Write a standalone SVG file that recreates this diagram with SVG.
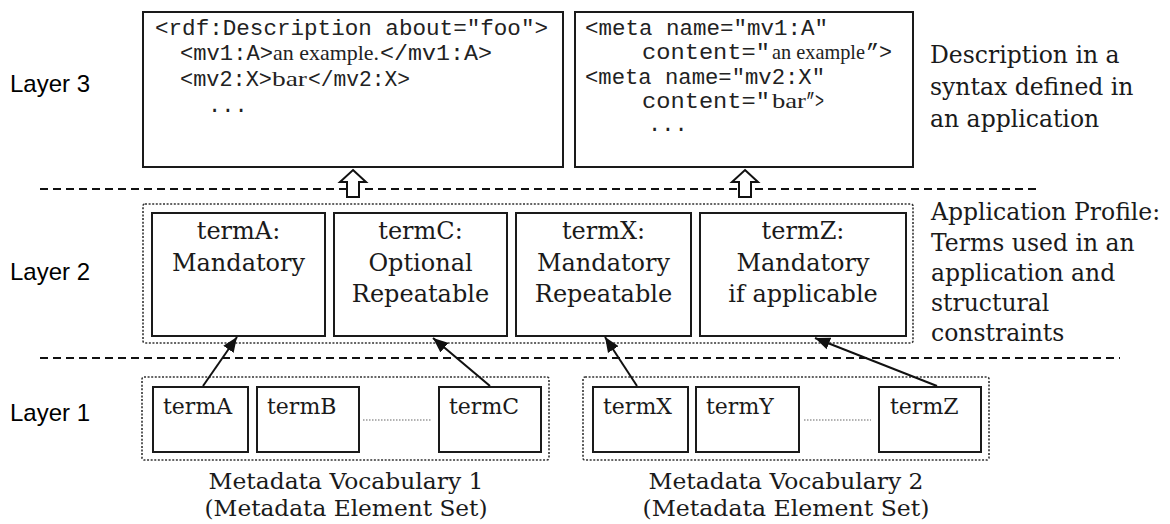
<svg xmlns="http://www.w3.org/2000/svg" width="1170" height="524" viewBox="0 0 1170 524">
<style>
.bg{fill:#fff}
.box{fill:#fff;stroke:#1a1a1a;stroke-width:2}
.grp{fill:none;stroke:#333;stroke-width:1.6;stroke-dasharray:2 1.6}
.dash{fill:none;stroke:#111;stroke-width:2;stroke-dasharray:8 5}
.dots{fill:none;stroke:#666;stroke-width:1.2;stroke-dasharray:1.5 1.5}
.mono{font-family:"Liberation Mono","DejaVu Sans Mono",monospace;font-size:22px;fill:#222}
.code-serif{font-family:"Liberation Serif","Times New Roman",serif;font-size:21px;fill:#222}
.term{font-family:"DejaVu Serif","Liberation Serif",serif;font-size:24px;fill:#1a1a1a;text-anchor:middle}
.term1{font-family:"DejaVu Serif","Liberation Serif",serif;font-size:22px;fill:#1a1a1a}
.note{font-family:"DejaVu Serif","Liberation Serif",serif;font-size:23.5px;fill:#1a1a1a}
.cap{font-family:"DejaVu Serif","Liberation Serif",serif;font-size:22px;fill:#1a1a1a;text-anchor:middle}
.layer{font-family:"Liberation Sans",Arial,sans-serif;font-size:24px;fill:#000}
.conn{fill:none;stroke:#111;stroke-width:2}
.hollow{fill:#fff;stroke:#111;stroke-width:2;stroke-linejoin:miter}
</style>
<defs>
<marker id="ah" viewBox="0 0 12 10" refX="12" refY="5" markerWidth="15" markerHeight="13" markerUnits="userSpaceOnUse" orient="auto">
<path d="M0,0 L12,5 L0,10 z" fill="#111"/>
</marker>
</defs>
<rect class="bg" x="0" y="0" width="1170" height="524"/>

<g id="layer-labels">
<text class="layer" x="10" y="92">Layer 3</text>
<text class="layer" x="10" y="280">Layer 2</text>
<text class="layer" x="10" y="421">Layer 1</text>
</g>

<g id="separators">
<line class="dash" x1="40" y1="189" x2="1040" y2="189"/>
<line class="dash" x1="40" y1="358" x2="1120" y2="358"/>
</g>

<g id="rdf-description">
<rect class="box" x="143" y="12" width="420" height="155"/>
<text class="mono" x="155" y="35" textLength="393" lengthAdjust="spacingAndGlyphs">&lt;rdf:Description about="foo"&gt;</text>
<text class="mono" x="180" y="60" textLength="93" lengthAdjust="spacingAndGlyphs">&lt;mv1:A&gt;</text>
<text class="code-serif" x="273" y="60" textLength="106" lengthAdjust="spacingAndGlyphs">an example.</text>
<text class="mono" x="380" y="60" textLength="112" lengthAdjust="spacingAndGlyphs">&lt;/mv1:A&gt;</text>
<text class="mono" x="180" y="86" textLength="92" lengthAdjust="spacingAndGlyphs">&lt;mv2:X&gt;</text>
<text class="code-serif" x="272" y="86" textLength="35" lengthAdjust="spacingAndGlyphs">bar</text>
<text class="mono" x="308" y="86" textLength="102" lengthAdjust="spacingAndGlyphs">&lt;/mv2:X&gt;</text>
<text class="mono" x="208" y="112">...</text>
</g>

<g id="meta-description">
<rect class="box" x="575" y="12" width="338" height="155"/>
<text class="mono" x="585" y="35" textLength="243" lengthAdjust="spacingAndGlyphs">&lt;meta name="mv1:A"</text>
<text class="mono" x="642" y="59" textLength="128" lengthAdjust="spacingAndGlyphs">content="</text>
<text class="code-serif" x="772" y="59" textLength="93" lengthAdjust="spacingAndGlyphs">an example</text>
<text class="mono" x="866" y="59" textLength="26" lengthAdjust="spacingAndGlyphs">”&gt;</text>
<text class="mono" x="585" y="84" textLength="240" lengthAdjust="spacingAndGlyphs">&lt;meta name="mv2:X"</text>
<text class="mono" x="642" y="108" textLength="128" lengthAdjust="spacingAndGlyphs">content="</text>
<text class="code-serif" x="772" y="108" textLength="34" lengthAdjust="spacingAndGlyphs">bar</text>
<text class="mono" x="806" y="108" textLength="18" lengthAdjust="spacingAndGlyphs">”&gt;</text>
<text class="mono" x="648" y="131">...</text>
</g>

<g id="layer3-note">
<text class="note" x="930" y="63">Description in a</text>
<text class="note" x="930" y="95">syntax defined in</text>
<text class="note" x="930" y="127">an application</text>
</g>

<g id="application-profile">
<rect class="grp" x="143" y="204" width="770" height="139" rx="2"/>
</g>
<g id="profile-termA">
<rect class="box" x="152" y="213" width="173" height="123"/>
<text class="term" x="238.5" y="239">termA:</text>
<text class="term" x="238.5" y="271">Mandatory</text>
</g>
<g id="profile-termC">
<rect class="box" x="334" y="213" width="173" height="123"/>
<text class="term" x="420.5" y="239">termC:</text>
<text class="term" x="420.5" y="271">Optional</text>
<text class="term" x="420.5" y="302">Repeatable</text>
</g>
<g id="profile-termX">
<rect class="box" x="516" y="213" width="175" height="123"/>
<text class="term" x="603.5" y="239">termX:</text>
<text class="term" x="603.5" y="271">Mandatory</text>
<text class="term" x="603.5" y="302">Repeatable</text>
</g>
<g id="profile-termZ">
<rect class="box" x="700" y="213" width="206" height="123"/>
<text class="term" x="803" y="239">termZ:</text>
<text class="term" x="803" y="271">Mandatory</text>
<text class="term" x="803" y="302">if applicable</text>
</g>

<g id="layer2-note">
<text class="note" x="931" y="220">Application Profile:</text>
<text class="note" x="931" y="251">Terms used in an</text>
<text class="note" x="931" y="281">application and</text>
<text class="note" x="931" y="311">structural</text>
<text class="note" x="931" y="341">constraints</text>
</g>

<g id="vocabulary-1">
<rect class="grp" x="142" y="377" width="407" height="83" rx="2"/>
<line class="dots" x1="363" y1="420" x2="432" y2="420"/>
<text class="cap" x="346" y="489" textLength="275" lengthAdjust="spacingAndGlyphs">Metadata Vocabulary 1</text>
<text class="cap" x="346" y="516" textLength="283" lengthAdjust="spacingAndGlyphs">(Metadata Element Set)</text>
</g>
<g id="v1-termA">
<rect class="box" x="153" y="387" width="95" height="65"/>
<text class="term1" x="163" y="414">termA</text>
</g>
<g id="v1-termB">
<rect class="box" x="257" y="387" width="102" height="65"/>
<text class="term1" x="267" y="414">termB</text>
</g>
<g id="v1-termC">
<rect class="box" x="439" y="387" width="102" height="65"/>
<text class="term1" x="449" y="414">termC</text>
</g>

<g id="vocabulary-2">
<rect class="grp" x="583" y="377" width="406" height="83" rx="2"/>
<line class="dots" x1="804" y1="420" x2="871" y2="420"/>
<text class="cap" x="786" y="489" textLength="275" lengthAdjust="spacingAndGlyphs">Metadata Vocabulary 2</text>
<text class="cap" x="786" y="516" textLength="287" lengthAdjust="spacingAndGlyphs">(Metadata Element Set)</text>
</g>
<g id="v2-termX">
<rect class="box" x="593" y="387" width="95" height="65"/>
<text class="term1" x="603" y="414">termX</text>
</g>
<g id="v2-termY">
<rect class="box" x="696" y="387" width="103" height="65"/>
<text class="term1" x="706" y="414">termY</text>
</g>
<g id="v2-termZ">
<rect class="box" x="879" y="387" width="102" height="65"/>
<text class="term1" x="890" y="414">termZ</text>
</g>

<g id="connectors">
<path class="hollow" d="M353,170 L366,182 L359,182 L359,197 L347,197 L347,182 L340,182 Z"/>
<path class="hollow" d="M745,170 L758,182 L751,182 L751,197 L739,197 L739,182 L732,182 Z"/>
<line class="conn" x1="203" y1="386" x2="237" y2="337" marker-end="url(#ah)"/>
<line class="conn" x1="490" y1="386" x2="433" y2="338" marker-end="url(#ah)"/>
<line class="conn" x1="637" y1="386" x2="605" y2="337" marker-end="url(#ah)"/>
<line class="conn" x1="937" y1="386" x2="815" y2="338" marker-end="url(#ah)"/>
</g>
</svg>
